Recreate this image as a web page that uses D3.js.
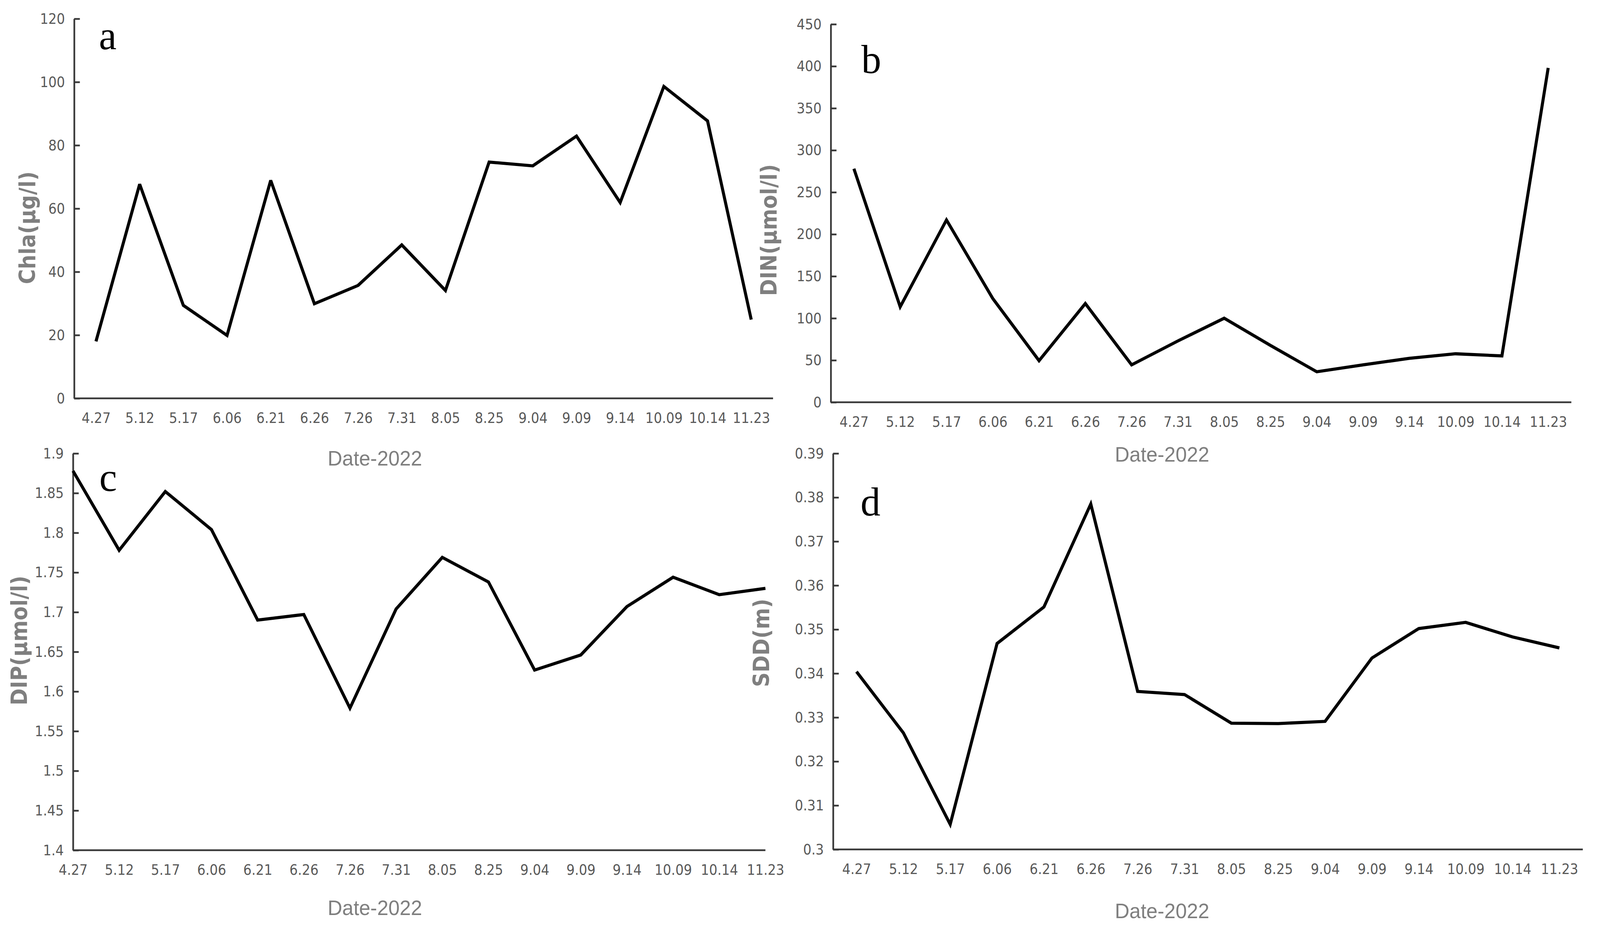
<!DOCTYPE html>
<html>
<head>
<meta charset="utf-8">
<script src="https://cdn.jsdelivr.net/npm/d3@7"></script>
<style>
  html, body { margin: 0; padding: 0; background: #fff; overflow: hidden; width: 100%; height: 100%; }
  svg { display: block; width: 100vw; height: 100vh; }
</style>
</head>
<body>
<svg id="chart" viewBox="0 0 4187 2389" preserveAspectRatio="none"></svg>
<script>
// ---- data ----
const dates = ["4.27","5.12","5.17","6.06","6.21","6.26","7.26","7.31","8.05","8.25","9.04","9.09","9.14","10.09","10.14","11.23"];
const chla = [18.0, 67.7, 29.4, 19.9, 68.9, 29.9, 35.7, 48.5, 34.1, 74.7, 73.5, 82.9, 61.9, 98.6, 87.7, 24.9];
const din  = [278, 113.6, 217, 123.5, 49.5, 117.5, 44.5, 73, 100, 67.6, 36.3, 44.5, 52.3, 57.7, 55.2, 398];
const dip  = [1.878, 1.778, 1.852, 1.804, 1.690, 1.697, 1.579, 1.704, 1.769, 1.738, 1.627, 1.646, 1.707, 1.744, 1.722, 1.730];
const sdd  = [0.3404, 0.3265, 0.3057, 0.3468, 0.3551, 0.3785, 0.3359, 0.3352, 0.3287, 0.3286, 0.3291, 0.3435, 0.3502, 0.3516, 0.3483, 0.3458];

const ticksA = [0, 20, 40, 60, 80, 100, 120];
const ticksB = [0, 50, 100, 150, 200, 250, 300, 350, 400, 450];
const ticksC = [1.4, 1.45, 1.5, 1.55, 1.6, 1.65, 1.7, 1.75, 1.8, 1.85, 1.9];
const ticksD = [0.3, 0.31, 0.32, 0.33, 0.34, 0.35, 0.36, 0.37, 0.38, 0.39];

const titles = ["Chla(μg/l)", "DIN(μmol/l)", "DIP(μmol/l)", "SDD(m)"];
const xTitle = "Date-2022";
const letters = ["a", "b", "c", "d"];

// ---- layout ----
const panels = [
  { values: chla, ticks: ticksA, domain: [0, 120], x: [194, 2023], y: [1020, 48], pad: 0.5,
    title: titles[0], letter: letters[0], yt: [72, 583], xt: [981, 1192], lt: [282, 126] },
  { values: din, ticks: ticksB, domain: [0, 450], x: [2174, 4112], y: [1030, 62], pad: 0.5,
    title: titles[1], letter: letters[1], yt: [2012, 589], xt: [3041, 1182], lt: [2280, 187] },
  { values: dip, ticks: ticksC, domain: [1.4, 1.9], x: [191, 2003], y: [2177, 1161], pad: 0,
    title: titles[2], letter: letters[2], yt: [50, 1640], xt: [981, 2343], lt: [283, 1257] },
  { values: sdd, ticks: ticksD, domain: [0.3, 0.39], x: [2180, 4142], y: [2175, 1161], pad: 0.5,
    title: titles[3], letter: letters[3], yt: [1992, 1646], xt: [3041, 2351], lt: [2278, 1320] }
];

const svg = d3.select("#chart");
svg.append("rect").attr("width", 4187).attr("height", 2389).attr("fill", "#fff");

const tickFont = "'Liberation Sans Narrow', 'Arial Narrow', 'DejaVu Sans Condensed', sans-serif";

panels.forEach(p => {
  const x = d3.scalePoint().domain(dates).range(p.x).padding(p.pad);
  const y = d3.scaleLinear().domain(p.domain).range(p.y);
  const g = svg.append("g");

  // y axis
  const yAxis = d3.axisLeft(y).tickValues(p.ticks).tickFormat(d => String(+d.toFixed(3)))
    .tickSizeInner(-15).tickSizeOuter(0).tickPadding(24);
  const yg = g.append("g").attr("transform", `translate(${p.x[0]},0)`).call(yAxis);
  yg.select(".domain").attr("stroke", "#3a3a3a").attr("stroke-width", 4.5);
  yg.selectAll(".tick line").attr("stroke", "#3a3a3a").attr("stroke-width", 4.5);
  yg.selectAll(".tick text").attr("fill", "#595959")
    .style("font-family", tickFont).style("font-size", "38px");

  // x axis
  const xAxis = d3.axisBottom(x).tickSize(0).tickPadding(36);
  const xg = g.append("g").attr("transform", `translate(0,${p.y[0]})`).call(xAxis);
  xg.select(".domain").attr("stroke", "#3a3a3a").attr("stroke-width", 4.5)
    .attr("d", `M${p.x[0]},0H${p.x[1]}`);
  xg.selectAll(".tick text").attr("fill", "#595959")
    .style("font-family", tickFont).style("font-size", "38px");

  // line
  const line = d3.line().x((d, i) => x(dates[i])).y(d => y(d));
  g.append("path").datum(p.values).attr("d", line)
    .attr("fill", "none").attr("stroke", "#000").attr("stroke-width", 8)
    .attr("stroke-linejoin", "miter").attr("stroke-miterlimit", 3);

  // y title
  g.append("text")
    .attr("transform", `translate(${p.yt[0]},${p.yt[1]}) rotate(-90)`)
    .attr("text-anchor", "middle").attr("dy", "0.35em")
    .attr("fill", "#7f7f7f")
    .style("font-family", tickFont).style("font-weight", "bold").style("font-size", "58px")
    .text(p.title);

  // x title
  g.append("text")
    .attr("x", p.xt[0]).attr("y", p.xt[1])
    .attr("text-anchor", "middle").attr("fill", "#7f7f7f")
    .style("font-family", "'Liberation Sans', Arial, sans-serif").style("font-size", "53px")
    .text(xTitle);

  // panel letter
  g.append("text")
    .attr("x", p.lt[0]).attr("y", p.lt[1])
    .attr("text-anchor", "middle").attr("fill", "#000")
    .style("font-family", "'Liberation Serif', 'Times New Roman', serif").style("font-size", "104px")
    .text(p.letter);
});
</script>
</body>
</html>
